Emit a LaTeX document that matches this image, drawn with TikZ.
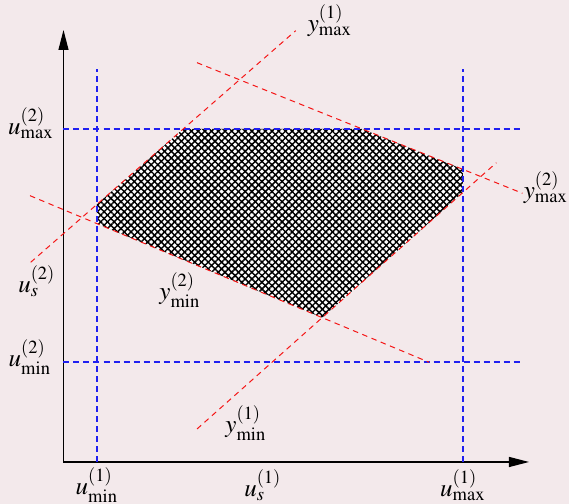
\documentclass[tikz,border=0pt]{standalone}
\usepackage{amsmath}
\usepackage{mathptmx}
\usepackage{tikz}
\usetikzlibrary{arrows.meta, patterns.meta}
\definecolor{paperbg}{HTML}{F3E9EB}
\definecolor{limblue}{HTML}{2020F0}
\definecolor{outred}{HTML}{F51515}

\begin{document}
\begin{tikzpicture}[
    x=0.4pt, y=0.4pt,
    axis/.style={line width=0.45pt, -{Triangle[length=8pt, width=4pt]}},
    inlim/.style={dash pattern=on 2.4pt off 1.6pt, line width=0.5pt, color=limblue},
    outlim/.style={dash pattern=on 2.2pt off 1.8pt, line width=0.4pt, color=outred},
    hatch/.style={pattern={Lines[angle=#1, distance=1.9pt, line width=0.6pt]}},
    lbl/.style={inner sep=0pt},
]
\fill[paperbg] (0,0) rectangle (569,504);
\useasboundingbox (0,0) rectangle (569,504);

% Feasible region
\coordinate (v1) at (97,299.6);
\coordinate (v2) at (183.2,375);
\coordinate (v3) at (362,375);
\coordinate (v4) at (463,334.6);
\coordinate (v5) at (463,311.6);
\coordinate (v6) at (322.2,186.4);
\coordinate (v7) at (97,280.3);
\fill[white] (v1) -- (v2) -- (v3) -- (v4) -- (v5) -- (v6) -- (v7) -- cycle;
\fill[hatch=45] (v1) -- (v2) -- (v3) -- (v4) -- (v5) -- (v6) -- (v7) -- cycle;
\fill[hatch=-45] (v1) -- (v2) -- (v3) -- (v4) -- (v5) -- (v6) -- (v7) -- cycle;

% Axes
\coordinate (O) at (63.5,42);
\coordinate (ytip) at (63.5,474);
\coordinate (xtip) at (529,42);
\draw[axis] (O) -- (ytip);
\draw[axis] (O) -- (xtip);

% Input limits
\coordinate (uminA) at (97,42);
\coordinate (uminB) at (97,435);
\coordinate (umaxA) at (463,42);
\coordinate (umaxB) at (463,435);
\coordinate (vminA) at (63.5,142);
\coordinate (vminB) at (523,142);
\coordinate (vmaxA) at (63.5,375);
\coordinate (vmaxB) at (523,375);
\draw[inlim] (uminA) -- (uminB);
\draw[inlim] (umaxA) -- (umaxB);
\draw[inlim] (vminA) -- (vminB);
\draw[inlim] (vmaxA) -- (vmaxB);

% Output limits
\coordinate (ymaxoneA) at (30.7,241.7);
\coordinate (ymaxoneB) at (295.7,473.3);
\coordinate (yminoneA) at (197,75);
\coordinate (yminoneB) at (496.4,341.3);
\coordinate (ymaxtwoA) at (197,441.3);
\coordinate (ymaxtwoB) at (522.5,310.7);
\coordinate (ymintwoA) at (30,308.3);
\coordinate (ymintwoB) at (429.2,141.7);
\draw[outlim] (ymaxoneA) -- (ymaxoneB);
\draw[outlim] (yminoneA) -- (yminoneB);
\draw[outlim] (ymaxtwoA) -- (ymaxtwoB);
\draw[outlim] (ymintwoA) -- (ymintwoB);

% Labels
\node[lbl] (lymaxone) at (330,483) {$y^{(1)}_{\max}$};
\node[lbl] (lymaxtwo) at (546,316) {$y^{(2)}_{\max}$};
\node[lbl] (lymintwo) at (180,214) {$y^{(2)}_{\min}$};
\node[lbl] (lyminone) at (246,81) {$y^{(1)}_{\min}$};
\node[lbl] (lustwo) at (37,223) {$u^{(2)}_{s}$};
\node[lbl] (lumaxtwo) at (31,381) {$u^{(2)}_{\max}$};
\node[lbl] (lumintwo) at (30,147) {$u^{(2)}_{\min}$};
\node[lbl] (luminone) at (97,19) {$u^{(1)}_{\min}$};
\node[lbl] (lusone) at (263,19) {$u^{(1)}_{s}$};
\node[lbl] (lumaxone) at (463,19) {$u^{(1)}_{\max}$};

\end{tikzpicture}
\end{document}
